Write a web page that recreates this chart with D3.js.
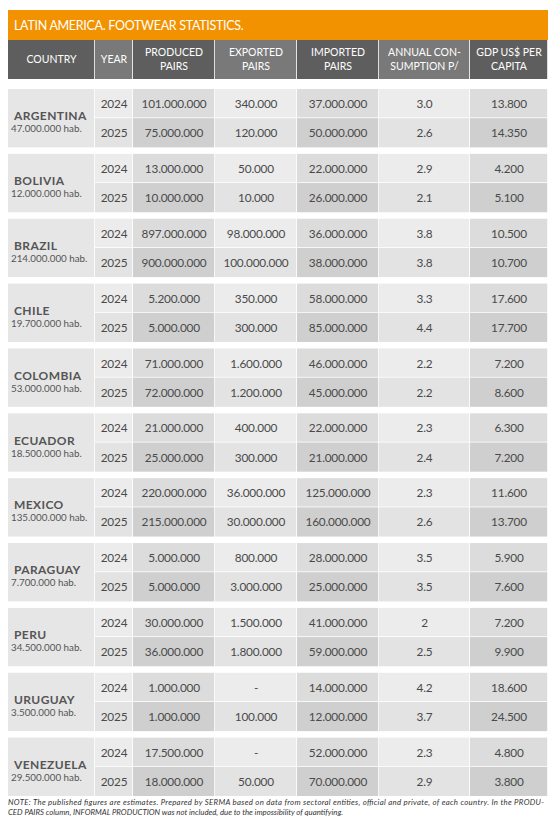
<!DOCTYPE html><html><head><meta charset="utf-8">
<script src="https://cdn.jsdelivr.net/npm/d3@7"></script>
<style>body{margin:0;background:#fff}text{font-family:Lato,"Open Sans",sans-serif}</style></head><body>
<svg id="c" width="559" height="820"></svg>
<script>
const title="LATIN AMERICA. FOOTWEAR STATISTICS.";
const headers=[["COUNTRY"],["YEAR"],["PRODUCED","PAIRS"],["EXPORTED","PAIRS"],["IMPORTED","PAIRS"],["ANNUAL CON-","SUMPTION P/"],["GDP US$ PER","CAPITA"]];
const countries=["ARGENTINA","BOLIVIA","BRAZIL","CHILE","COLOMBIA","ECUADOR","MEXICO","PARAGUAY","PERU","URUGUAY","VENEZUELA"];
const population=["47.000.000 hab.","12.000.000 hab.","214.000.000 hab.","19.700.000 hab.","53.000.000 hab.","18.500.000 hab.","135.000.000 hab.","7.700.000 hab.","34.500.000 hab.","3.500.000 hab.","29.500.000 hab."];
const years=["2024","2025"];
const produced=[["101.000.000","75.000.000"],["13.000.000","10.000.000"],["897.000.000","900.000.000"],["5.200.000","5.000.000"],["71.000.000","72.000.000"],["21.000.000","25.000.000"],["220.000.000","215.000.000"],["5.000.000","5.000.000"],["30.000.000","36.000.000"],["1.000.000","1.000.000"],["17.500.000","18.000.000"]];
const exported=[["340.000","120.000"],["50.000","10.000"],["98.000.000","100.000.000"],["350.000","300.000"],["1.600.000","1.200.000"],["400.000","300.000"],["36.000.000","30.000.000"],["800.000","3.000.000"],["1.500.000","1.800.000"],["-","100.000"],["-","50.000"]];
const imported=[["37.000.000","50.000.000"],["22.000.000","26.000.000"],["36.000.000","38.000.000"],["58.000.000","85.000.000"],["46.000.000","45.000.000"],["22.000.000","21.000.000"],["125.000.000","160.000.000"],["28.000.000","25.000.000"],["41.000.000","59.000.000"],["14.000.000","12.000.000"],["52.000.000","70.000.000"]];
const consumption=[["3.0","2.6"],["2.9","2.1"],["3.8","3.8"],["3.3","4.4"],["2.2","2.2"],["2.3","2.4"],["2.3","2.6"],["3.5","3.5"],["2","2.5"],["4.2","3.7"],["2.3","2.9"]];
const gdp=[["13.800","14.350"],["4.200","5.100"],["10.500","10.700"],["17.600","17.700"],["7.200","8.600"],["6.300","7.200"],["11.600","13.700"],["5.900","7.600"],["7.200","9.900"],["18.600","24.500"],["4.800","3.800"]];
const note=["NOTE: The published figures are estimates. Prepared by SERMA based on data from sectoral entities, official and private, of each country. In the PRODU-","CED PAIRS column, INFORMAL PRODUCTION was not included, due to the impossibility of quantifying."];

const svg=d3.select("#c");
const edges=[8,95,133,215,297,379,470,548];
const colX=i=>edges[i], colW=i=>edges[i+1]-edges[i];
const gy=d3.scaleBand().domain(d3.range(countries.length)).range([89,796]).paddingInner(0.1).paddingOuter(0);
const ry=d3.scaleBand().domain([0,1]);
const txt="#4a4a4a";
svg.append("rect").attr("x",8).attr("y",10).attr("width",540).attr("height",30).attr("fill","#f39200");
svg.append("text").attr("x",14).attr("y",30).attr("fill","#fff").attr("font-size",12.5).attr("letter-spacing",-0.3).text(title);
headers.forEach((h,i)=>{
 svg.append("rect").attr("x",colX(i)).attr("y",40).attr("width",colW(i)-0.8).attr("height",39).attr("fill",i%2?"#797979":"#5e5e5e");
 const t=svg.append("text").attr("text-anchor","middle").attr("fill","#fff").attr("font-size",10.5);
 h.forEach((l,k)=>t.append("tspan").attr("x",colX(i)+colW(i)/2).attr("y",(h.length==1?63:56)+k*14).text(l));
});
const cols=[produced,exported,imported,consumption,gdp];
countries.forEach((c,g)=>{
 const y0=gy(g),bh=gy.bandwidth();ry.range([y0,y0+bh]);
 svg.append("rect").attr("x",8).attr("y",y0).attr("width",colW(0)-0.8).attr("height",bh).attr("fill","#e6e6e6");
 svg.append("text").attr("x",14).attr("y",y0+bh/2+2).attr("font-size",12).attr("font-weight","bold").attr("letter-spacing",0.4).attr("fill","#555").text(c);
 svg.append("text").attr("x",11).attr("y",y0+bh/2+14).attr("font-size",9.8).attr("fill","#555").text(population[g]);
 [0,1].forEach(r=>{
  const y=ry(r),h=ry.bandwidth();
  const vals=[years[r]].concat(cols.map(a=>a[g][r]));
  vals.forEach((v,k)=>{
   const i=k+1, dark=(i%2==0);
   const fill=r==0?(dark?"#dcdcdc":"#ececec"):(dark?"#cfcfcf":"#e3e3e3");
   svg.append("rect").attr("x",colX(i)).attr("y",y).attr("width",colW(i)-0.8).attr("height",h-(r==0?0.8:0)).attr("fill",fill);
   svg.append("text").attr("x",colX(i)+colW(i)/2).attr("y",y+h/2+4.5).attr("text-anchor","middle").attr("font-size",11.8).attr("letter-spacing",-0.2).attr("fill",txt).text(v);
  });
 });
});
note.forEach((l,k)=>svg.append("text").attr("x",8).attr("y",805+k*10).attr("font-size",7.8).attr("font-style","italic").attr("fill","#333").attr("textLength",k==0?536:null).text(l));
</script></body></html>
